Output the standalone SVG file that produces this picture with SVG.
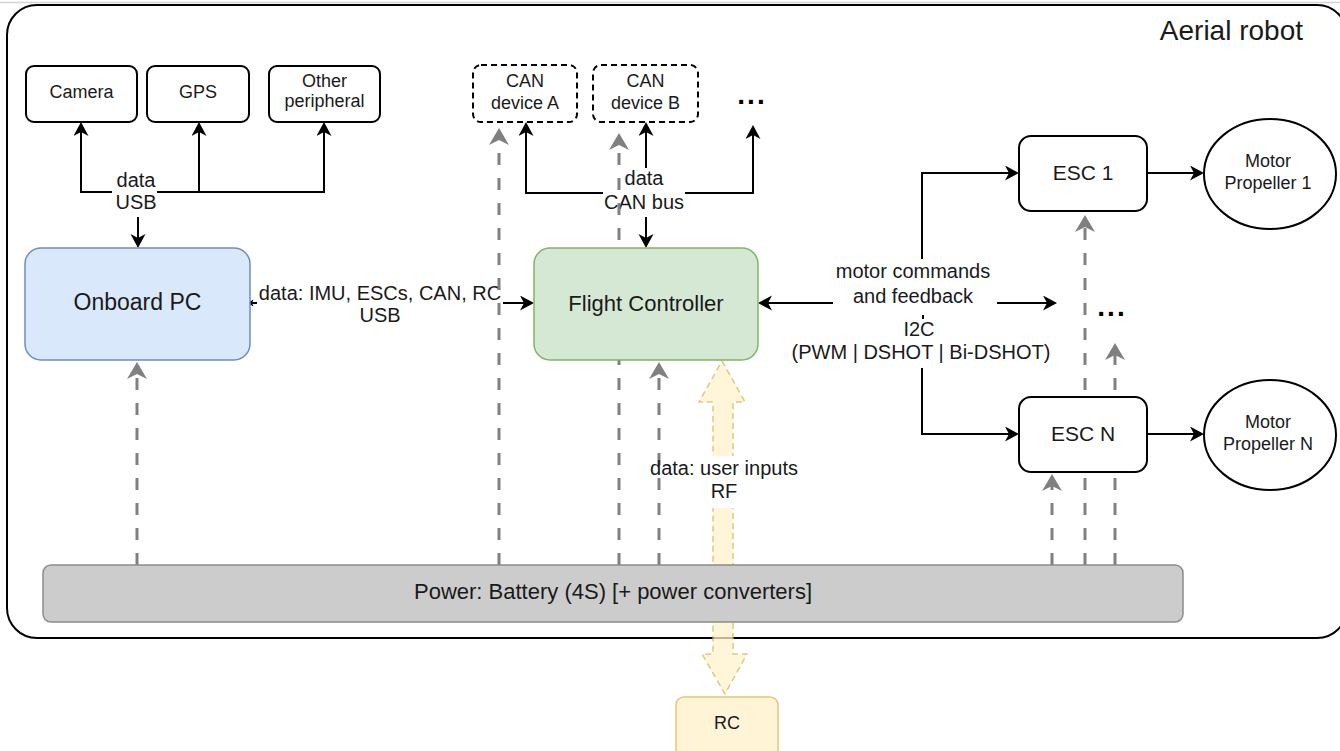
<svg xmlns="http://www.w3.org/2000/svg" width="1340" height="751" viewBox="0 0 1340 751">
  <style>
    text { font-family: "Liberation Sans", Arial, sans-serif; fill: #1a1a1a; text-anchor: middle; }
    .lbl { font-size: 20px; }
    .small { font-size: 18px; }
    .big { font-size: 22px; }
    .box { fill: #ffffff; stroke: #000000; stroke-width: 2; }
    .dashbox { fill: #ffffff; stroke: #000000; stroke-width: 2; stroke-dasharray: 6 4; }
    .wire { fill: none; stroke: #000000; stroke-width: 2; }
    .power { fill: none; stroke: #808080; stroke-width: 3; stroke-dasharray: 12 13; }
    .dots { font-size: 28px; font-weight: bold; letter-spacing: 2px; fill: #000; }
  </style>
  <defs>
    <marker id="arrow" markerUnits="userSpaceOnUse" markerWidth="16" markerHeight="16" refX="4" refY="7.5" orient="auto-start-reverse">
      <path d="M0,0 L14,7.5 L0,15 L4,7.5 z" fill="#000000"/>
    </marker>
    <marker id="arrowSmall" markerUnits="userSpaceOnUse" markerWidth="8" markerHeight="8" refX="1.5" refY="3.5" orient="auto">
      <path d="M0,0 L6,3.5 L0,7 L1.5,3.5 z" fill="#000000"/>
    </marker>
    <marker id="feed" markerUnits="userSpaceOnUse" markerWidth="20" markerHeight="22" refX="5" refY="10" orient="auto">
      <path d="M0,0 L17,10 L0,20 L5,10 z" fill="#808080"/>
    </marker>
  </defs>

  <!-- window edge -->
  <line x1="0" y1="2.5" x2="1340" y2="2.5" stroke="#d4d4d4" stroke-width="1.5"/>

  <!-- robot frame -->
  <g id="aerial-robot">
    <rect x="7" y="5" width="1340" height="633" rx="30" ry="30" fill="#ffffff" stroke="#000000" stroke-width="2"/>
    <text x="1303" y="40" style="font-size:28px;text-anchor:end">Aerial robot</text>
  </g>

  <g id="connectors">
    <!-- USB peripherals -->
    <path class="wire" d="M112,192 H81 V132" marker-end="url(#arrow)"/>
    <path class="wire" d="M157,192 H324 V132" marker-end="url(#arrow)"/>
    <path class="wire" d="M199,192 V132" marker-end="url(#arrow)"/>
    <path class="wire" d="M138,217 V238" marker-end="url(#arrow)"/>
    <text class="lbl" x="136" y="187">data</text>
    <text class="lbl" x="136" y="209">USB</text>

    <!-- CAN bus -->
    <path class="wire" d="M603,193 H526 V132" marker-end="url(#arrow)"/>
    <path class="wire" d="M646,168 V132" marker-end="url(#arrow)"/>
    <path class="wire" d="M685,193 H753 V135" marker-end="url(#arrow)"/>
    <path class="wire" d="M646,217 V238" marker-end="url(#arrow)"/>
    <text class="lbl" x="644" y="185">data</text>
    <text class="lbl" x="644" y="209">CAN bus</text>

    <!-- PC to flight controller -->
    <path class="wire" d="M257,303 H252" marker-end="url(#arrowSmall)"/>
    <path class="wire" d="M503,303 H524" marker-end="url(#arrow)"/>
    <text class="lbl" x="380" y="300">data: IMU, ESCs, CAN, RC</text>
    <text class="lbl" x="380" y="322">USB</text>

    <!-- motor command bus -->
    <path class="wire" d="M833,303 H768" marker-end="url(#arrow)"/>
    <path class="wire" d="M997,303 H1047" marker-end="url(#arrow)"/>
    <path class="wire" d="M922,259 V173 H1009" marker-end="url(#arrow)"/>
    <path class="wire" d="M922,368 V434 H1009" marker-end="url(#arrow)"/>
    <path class="wire" d="M923,315 V319"/>
    <text class="lbl" x="913" y="278">motor commands</text>
    <text class="lbl" x="913" y="303">and feedback</text>
    <text class="lbl" x="919" y="336">I2C</text>
    <text class="lbl" x="921" y="359">(PWM | DSHOT | Bi-DSHOT)</text>

    <!-- ESC to motors -->
    <path class="wire" d="M1147,173 H1194" marker-end="url(#arrow)"/>
    <path class="wire" d="M1147,434 H1194" marker-end="url(#arrow)"/>

    <!-- power feeds -->
    <path class="power" d="M137,565 V374" marker-end="url(#feed)"/>
    <path class="power" d="M499,565 V140" marker-end="url(#feed)"/>
    <path class="power" d="M619,565 V145" marker-end="url(#feed)"/>
    <path class="power" d="M659,565 V374" marker-end="url(#feed)"/>
    <path class="power" d="M1052,565 V486" marker-end="url(#feed)"/>
    <path class="power" d="M1085,565 V227" marker-end="url(#feed)"/>
    <path class="power" d="M1115,565 V355" marker-end="url(#feed)"/>

    <!-- radio link -->
    <g id="rf-link" opacity="0.75">
      <polygon points="722,361 745,402 733,402 733,654 747,654 725,694 702,654 713,654 713,402 699,402" fill="#fff2cc" stroke="#d6b656" stroke-width="1.5" stroke-dasharray="6 4"/>
    </g>
    <rect x="697" y="456" width="54" height="52" fill="#ffffff"/>
    <text class="lbl" x="724" y="475">data: user inputs</text>
    <text class="lbl" x="724" y="498">RF</text>
  </g>

  <!-- peripherals -->
  <g id="camera">
    <rect class="box" x="26" y="66" width="111" height="56" rx="8"/>
    <text class="small" x="81.5" y="98">Camera</text>
  </g>
  <g id="gps">
    <rect class="box" x="147" y="66" width="102" height="56" rx="8"/>
    <text class="small" x="198" y="98">GPS</text>
  </g>
  <g id="other-peripheral">
    <rect class="box" x="269" y="66" width="111" height="56" rx="8"/>
    <text class="small" x="324.5" y="87">Other</text>
    <text class="small" x="324.5" y="107">peripheral</text>
  </g>

  <!-- CAN devices -->
  <g id="can-device-a">
    <rect class="dashbox" x="473" y="65" width="104" height="57" rx="8"/>
    <text class="small" x="525" y="87">CAN</text>
    <text class="small" x="525" y="109">device A</text>
  </g>
  <g id="can-device-b">
    <rect class="dashbox" x="593" y="65" width="105" height="57" rx="8"/>
    <text class="small" x="645.5" y="87">CAN</text>
    <text class="small" x="645.5" y="109">device B</text>
  </g>
  <g id="can-more">
    <text class="dots" x="752" y="104">...</text>
  </g>

  <!-- computing -->
  <g id="onboard-pc">
    <rect x="25" y="248" width="225" height="112" rx="16" fill="#dae8fc" stroke="#6c8ebf" stroke-width="1.5"/>
    <text style="font-size:23px" x="137.5" y="310">Onboard PC</text>
  </g>
  <g id="flight-controller">
    <rect x="534" y="248" width="224" height="112" rx="16" fill="#d5e8d4" stroke="#82b366" stroke-width="1.5"/>
    <text class="big" x="646" y="311">Flight Controller</text>
  </g>

  <!-- propulsion -->
  <g id="esc-1">
    <rect class="box" x="1019" y="136" width="128" height="75" rx="12"/>
    <text style="font-size:21px" x="1083" y="180">ESC 1</text>
  </g>
  <g id="esc-n">
    <rect class="box" x="1019" y="397" width="128" height="75" rx="12"/>
    <text style="font-size:21px" x="1083" y="441">ESC N</text>
  </g>
  <g id="esc-more">
    <text class="dots" x="1112" y="316">...</text>
  </g>
  <g id="motor-1">
    <ellipse class="box" cx="1270" cy="174" rx="66" ry="55"/>
    <text class="small" x="1268" y="167">Motor</text>
    <text class="small" x="1268" y="189">Propeller 1</text>
  </g>
  <g id="motor-n">
    <ellipse class="box" cx="1270" cy="435" rx="66" ry="55"/>
    <text class="small" x="1268" y="428">Motor</text>
    <text class="small" x="1268" y="450">Propeller N</text>
  </g>

  <!-- power -->
  <g id="power">
    <rect x="43" y="565" width="1140" height="57" rx="8" fill="#cccccc" stroke="#8c8c8c" stroke-width="1.5"/>
    <text class="big" x="613" y="599">Power: Battery (4S) [+ power converters]</text>
  </g>

  <!-- remote control -->
  <g id="rc">
    <rect x="676" y="697" width="102" height="62" rx="8" fill="#fff5d6" stroke="#e2c679" stroke-width="1.5"/>
    <text class="small" x="727" y="729">RC</text>
  </g>
</svg>
